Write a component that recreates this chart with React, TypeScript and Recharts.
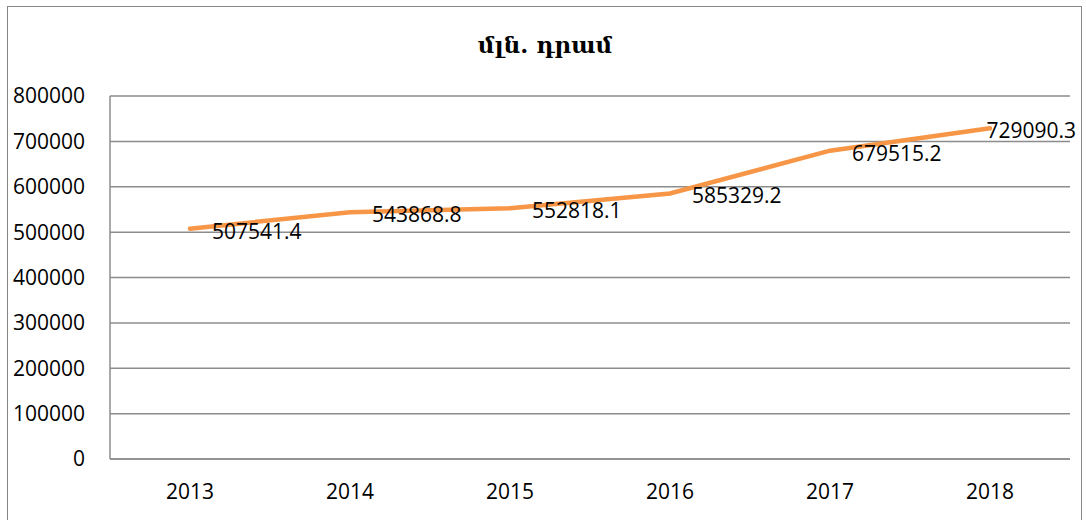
import { LineChart, Line, XAxis, YAxis, CartesianGrid, LabelList } from "recharts";

const years = ["2013", "2014", "2015", "2016", "2017", "2018"];
const amounts = [507541.4, 543868.8, 552818.1, 585329.2, 679515.2, 729090.3];
const yTicks = [0, 100000, 200000, 300000, 400000, 500000, 600000, 700000, 800000];

const data = years.map((year, i) => ({ year, value: amounts[i] }));

const FONT = "'Open Sans', 'Liberation Sans', sans-serif";
const GRID = "#8c8c8c";
// labels that would run past the chart edge get pulled back inside (like Excel does)
const LABEL_RIGHT_LIMIT = 1076;
const LABEL_WIDTH = 92;

const renderLabel = (props: any) => {
  const { x, y, value } = props;
  const overflow = x + 22 + LABEL_WIDTH > LABEL_RIGHT_LIMIT;
  return (
    <text
      x={overflow ? LABEL_RIGHT_LIMIT : x + 22}
      y={y + 2}
      dominantBaseline="central"
      textAnchor={overflow ? "end" : "start"}
      fontFamily={FONT}
      fontSize={21}
      fill="#000"
    >
      {String(value)}
    </text>
  );
};

export default function App() {
  return (
    <div
      style={{
        position: "absolute",
        left: 0,
        top: 0,
        width: 1086,
        height: 520,
        overflow: "hidden",
        background: "#fff",
      }}
    >
      <div
        style={{
          position: "absolute",
          left: 7,
          top: 6,
          width: 1075,
          height: 530,
          border: "1.5px solid #868686",
          boxSizing: "border-box",
        }}
      />
      <div
        style={{
          position: "absolute",
          left: 0,
          top: 31,
          width: 1090,
          textAlign: "center",
          fontFamily: "'DejaVu Serif', serif",
          fontWeight: "bold",
          fontSize: 23,
          color: "#000",
        }}
      >
        մլն. դրամ
      </div>
      <div style={{ position: "absolute", left: 0, top: 0 }}>
        <LineChart
          width={1086}
          height={520}
          data={data}
          margin={{ top: 96, right: 16, bottom: 0, left: 0 }}
        >
          <CartesianGrid vertical={false} stroke={GRID} strokeWidth={1.5} />
          <XAxis
            dataKey="year"
            height={61}
            padding={{ left: 80, right: 80 }}
            axisLine={{ stroke: GRID, strokeWidth: 1.5 }}
            tickLine={false}
            tickMargin={19}
            tick={{ fill: "#000", fontSize: 21, fontFamily: FONT }}
          />
          <YAxis
            width={110}
            domain={[0, 800000]}
            ticks={yTicks}
            axisLine={{ stroke: GRID, strokeWidth: 1.5 }}
            tickLine={false}
            tickMargin={19}
            tick={{ fill: "#000", fontSize: 21, fontFamily: FONT }}
          />
          <Line
            type="linear"
            dataKey="value"
            stroke="#F79646"
            strokeWidth={4.5}
            strokeLinecap="round"
            dot={false}
            isAnimationActive={false}
          >
            <LabelList dataKey="value" content={renderLabel} />
          </Line>
        </LineChart>
      </div>
    </div>
  );
}
